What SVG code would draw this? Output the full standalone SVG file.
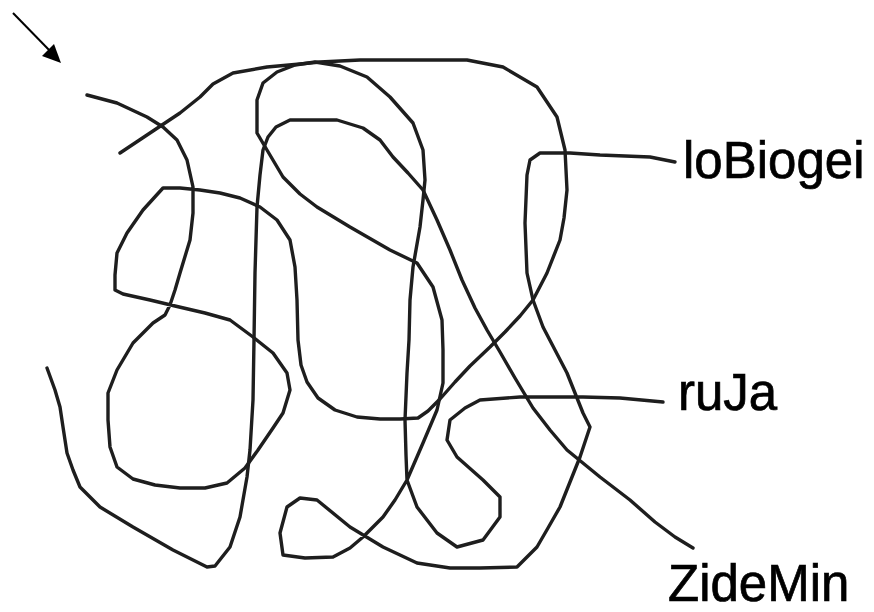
<svg xmlns="http://www.w3.org/2000/svg" width="874" height="612" viewBox="0 0 874 612">
<style>
.s{fill:none;stroke:#1e1e1e;stroke-width:3.4;stroke-linejoin:round;stroke-linecap:round}
.t{font-family:"Liberation Sans",Arial,sans-serif;font-size:51px;fill:#000;stroke:#000;stroke-width:0.7}
</style>
<rect width="874" height="612" fill="#fff"/>
<g id="arrow">
<line x1="13" y1="13" x2="52" y2="53" stroke="#000" stroke-width="2"/>
<polygon points="61,63 42,56 54,44" fill="#000"/>
</g>
<g id="strings">
<polyline id="string1" class="s" points="120,153 150,133 180,113 200,97 213,84 233,73 267,67 300,64 320,62 360,60 420,60 467,60 503,67 537,87 557,117 565,150 567,190 564,218 560,240 547,273 533,300 520,316 505,332 490,347 470,366 455,382 440,399 428,411 418,418 400,419 380,419 357,417 335,410 318,398 307,382 301,365 298,340 297,300 295,267 290,240 277,220 260,207 240,198 220,193 200,190 180,188 163,188 143,210 127,233 117,253 115,275 115,290 123,294 150,300 175,306 205,313 230,320 253,337 273,353 287,373 290,390 283,413 273,428 258,450 245,468 227,483 205,488 180,488 155,485 133,479 117,467 110,447 108,420 108,393 117,370 133,343 153,323 165,315 170,305 175,290 180,273 190,240 193,213 193,187 187,160 177,140 163,127 147,117 117,103 87,95"/>
<polyline id="string2" class="s" points="675,162 650,157 600,155 570,153 540,153 530,160 527,175 525,223 527,273 533,300 543,327 555,350 567,373 583,413 590,427 580,457 570,482 560,507 548,528 537,547 517,567 480,568 450,568 417,563 383,547 350,527 317,500 300,498 287,507 280,533 283,555 305,558 333,557 350,548 363,537 383,517 395,500 407,480 423,443 437,410 443,383 443,350 442,320 433,287 417,263 390,250 350,227 317,207 300,194 283,177 267,150 257,133 257,100 263,83 277,72 295,65 315,62 340,66 367,77 390,97 413,123 423,150 425,180 423,200 420,227 413,267 410,300 409,340 407,373 405,420 406,455 407,480 417,507 437,533 457,547 483,540 500,517 500,497 483,480 457,457 447,440 450,420 465,408 480,400 520,397 583,397 620,398 663,402"/>
<polyline id="string3" class="s" points="47,368 55,390 60,407 63,427 67,453 73,470 80,487 100,507 133,527 173,550 207,567 215,566 230,547 240,517 247,477 250,450 253,400 254,340 255,273 257,207 260,175 263,150 268,137 276,127 290,120 337,120 363,128 380,140 393,157 408,173 423,190 437,220 450,250 462,280 475,308 487,330 500,352 515,378 533,408 550,430 567,450 600,477 630,500 655,522 675,537 693,548"/>
</g>
<g id="label-loBiogei"><text class="t" x="683" y="178">loBiogei</text></g>
<g id="label-ruJa"><text class="t" x="678" y="410">ruJa</text></g>
<g id="label-ZideMin"><text class="t" x="668" y="601">ZideMin</text></g>
</svg>
